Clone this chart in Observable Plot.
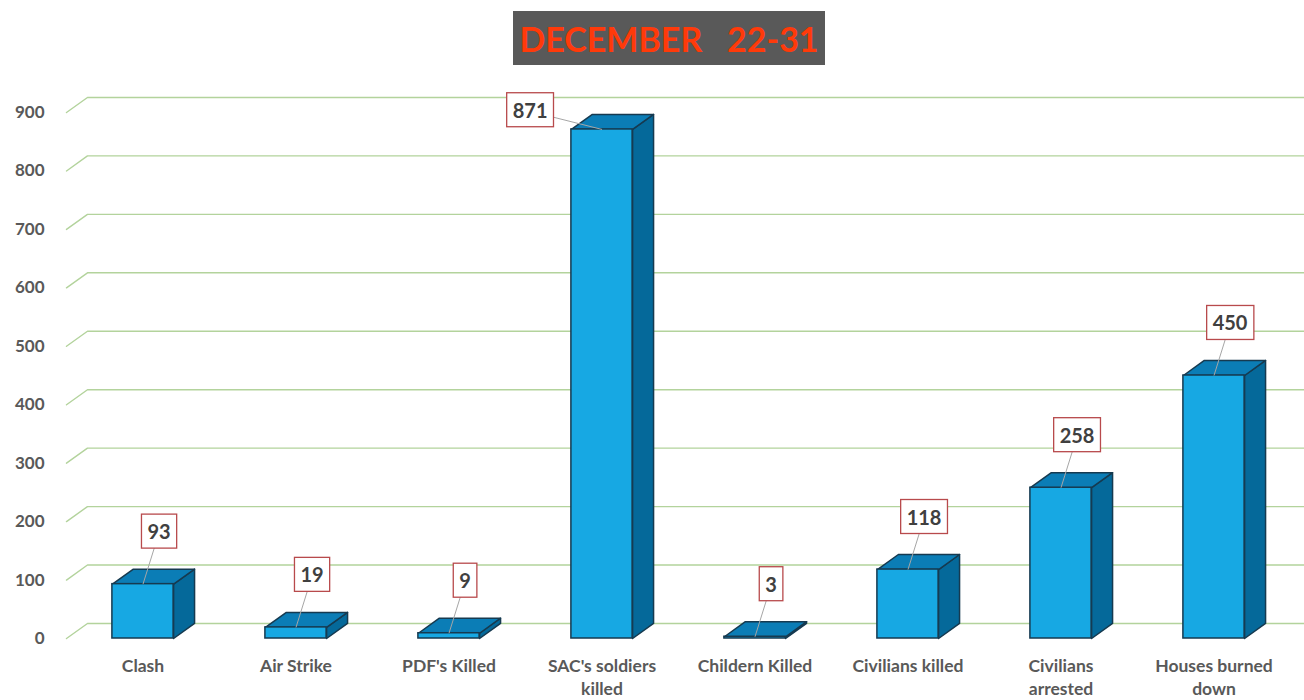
<!DOCTYPE html>
<html>
<head>
<meta charset="utf-8">
<script src="https://cdn.jsdelivr.net/npm/d3@7"></script>
<script src="https://cdn.jsdelivr.net/npm/@observablehq/plot@0.6"></script>
<style>
  html, body { margin: 0; padding: 0; background: #ffffff; width: 1304px; height: 700px; overflow: hidden; }
  #title { position: relative; height: 75px; width: 1304px; }
  #title .box {
    position: absolute; left: 513px; top: 11px; width: 312px; height: 54px;
    background: #595959; color: #ff3a0a; font-family: Lato, "Open Sans", sans-serif;
    font-weight: 700; font-size: 34px; white-space: pre;
    display: flex; align-items: center; justify-content: center; letter-spacing: 0px;
  }
  #chart svg { display: block; }
</style>
</head>
<body>
<div id="title"><div class="box">DECEMBER   22-31</div></div>
<div id="chart"></div>
<script>
const categories = ["Clash", "Air Strike", "PDF's Killed", "SAC's soldiers\nkilled", "Childern Killed", "Civilians killed", "Civilians\narrested", "Houses burned\ndown"];
const values = [93, 19, 9, 871, 3, 118, 258, 450];
const yTicks = [0, 100, 200, 300, 400, 500, 600, 700, 800, 900];

// 3D styling constants (band units / value units)
const HALF = 0.2, DX = 0.137, DY = 25.7;

const bars = values.map((v, i) => ({i, v, cat: categories[i]}));

const topFaces = bars.flatMap(d => [
  [d.i - HALF, d.v], [d.i + HALF, d.v], [d.i + HALF + DX, d.v + DY], [d.i - HALF + DX, d.v + DY], [d.i - HALF, d.v]
].map(([x, y]) => ({x, y, id: d.i})));
const sideFaces = bars.flatMap(d => [
  [d.i + HALF, 0], [d.i + HALF, d.v], [d.i + HALF + DX, d.v + DY], [d.i + HALF + DX, DY], [d.i + HALF, 0]
].map(([x, y]) => ({x, y, id: d.i})));

const grid = yTicks.flatMap(t => [
  {x: -0.5, y: t, id: t}, {x: -0.5 + DX, y: t + DY, id: t}, {x: 7.6, y: t + DY, id: t}
]);

const big = d => d.v > 800;
const labels = bars.map(d => ({
  ...d,
  lx: big(d) ? d.i - 0.47 : d.i + 0.105,
  ly: big(d) ? d.v + 31 : d.v + 88
}));

const outline = "#163a50";
const font = "Lato, 'Open Sans', sans-serif";

const plot = Plot.plot({
  width: 1304,
  height: 625,
  marginLeft: 66,
  marginRight: 14,
  marginTop: 37,
  marginBottom: 62,
  x: {domain: [-0.5, 7.5], axis: null},
  y: {domain: [0, 900], axis: null},
  style: {background: "#ffffff", fontFamily: font},
  marks: [
    Plot.line(grid, {x: "x", y: "y", z: "id", stroke: "#b3d39c", strokeWidth: 1.4, curve: "linear"}),
    Plot.text(yTicks, {x: () => -0.5, y: d => d, text: d => String(d), dx: -22, textAnchor: "end",
      fontSize: 17, fontWeight: 700, fill: "#595959"}),
    Plot.line(sideFaces, {x: "x", y: "y", z: "id", fill: "#05699a", stroke: outline, strokeWidth: 1.5, strokeLinejoin: "round"}),
    Plot.line(topFaces, {x: "x", y: "y", z: "id", fill: "#0b7db6", stroke: outline, strokeWidth: 1.5, strokeLinejoin: "round"}),
    Plot.rect(bars, {x1: d => d.i - HALF, x2: d => d.i + HALF, y1: 0, y2: "v", fill: "#17a8e3", stroke: outline, strokeWidth: 1.5}),
    Plot.text(bars, {x: "i", y: () => 0, text: "cat", lineAnchor: "top", dy: 17, fontSize: 17.5, fontWeight: 700,
      fill: "#595959", lineHeight: 1.32}),
    Plot.link(labels, {x1: "i", y1: "v", x2: "lx", y2: "ly", stroke: "#a6a6a6", strokeWidth: 1}),
    Plot.text(labels, {x: "lx", y: "ly", text: d => String(d.v), fontSize: 20, fontWeight: 700, fill: "#404040"})
  ]
});

document.getElementById("chart").appendChild(plot);

// boxes behind value labels (last mark group)
const groups = Array.from(plot.querySelectorAll(":scope > g"));
const labelGroup = groups[groups.length - 1];
Array.from(labelGroup.querySelectorAll("text")).forEach(t => {
  const b = t.getBBox();
  const padX = 6, padY = 5;
  const r = document.createElementNS("http://www.w3.org/2000/svg", "rect");
  r.setAttribute("x", b.x - padX);
  r.setAttribute("y", b.y - padY);
  r.setAttribute("width", b.width + 2 * padX);
  r.setAttribute("height", b.height + 2 * padY);
  if (t.getAttribute("transform")) r.setAttribute("transform", t.getAttribute("transform"));
  r.setAttribute("fill", "#ffffff");
  r.setAttribute("stroke", "#b84a4c");
  r.setAttribute("stroke-width", 1.3);
  t.parentNode.insertBefore(r, t);
});
</script>
</body>
</html>
